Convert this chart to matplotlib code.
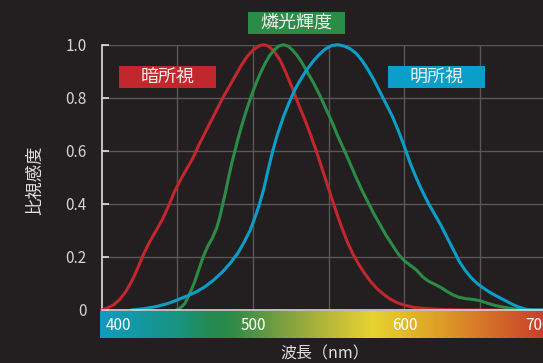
import numpy as np
import matplotlib
matplotlib.use("Agg")
import matplotlib.pyplot as plt
from matplotlib.colors import LinearSegmentedColormap
from matplotlib.patches import Rectangle

plt.rcParams["font.family"] = ["Noto Sans CJK JP", "DejaVu Sans"]

# scotopic (暗所視)
red_nm = [400, 404, 408, 412, 416, 420, 424, 428, 432, 436, 440, 444, 448, 452, 456, 460,
          464, 468, 472, 476, 480, 484, 488, 492, 496, 500, 504, 507, 510, 514, 518, 522,
          526, 530, 534, 538, 542, 546, 550, 554, 558, 562, 566, 570, 574, 578, 582, 586,
          590, 595, 600, 606, 614, 625, 640, 691]
red_val = [0, 0.008, 0.02, 0.04, 0.07, 0.11, 0.16, 0.215, 0.26, 0.30, 0.34, 0.39, 0.445,
           0.49, 0.53, 0.57, 0.62, 0.665, 0.71, 0.755, 0.8, 0.84, 0.88, 0.92, 0.955, 0.98,
           0.996, 1.0, 0.995, 0.975, 0.94, 0.89, 0.835, 0.775, 0.72, 0.66, 0.595, 0.525,
           0.455, 0.385, 0.32, 0.26, 0.21, 0.17, 0.135, 0.105, 0.08, 0.06, 0.043, 0.028,
           0.018, 0.01, 0.005, 0.002, 0, 0]

# phosphorescent luminance (燐光輝度)
green_nm = [449.5, 452, 455, 458, 461, 464, 467, 470, 473, 476, 478, 480, 482, 484, 486,
            488, 490, 493, 496, 499, 502, 505, 508, 511, 514, 517, 520, 523, 526, 529, 532,
            536, 540, 544, 548, 552, 556, 560, 564, 568, 572, 576, 580, 584, 588, 592, 596,
            600, 604, 608, 612, 616, 620, 624, 628, 632, 636, 640, 645, 650, 655, 660, 666,
            674, 684, 691]
green_val = [0, 0.008, 0.025, 0.06, 0.10, 0.15, 0.2, 0.24, 0.27, 0.31, 0.35, 0.40, 0.45,
             0.505, 0.555, 0.60, 0.645, 0.705, 0.76, 0.81, 0.855, 0.895, 0.93, 0.96, 0.98,
             0.995, 1.0, 0.995, 0.98, 0.96, 0.935, 0.895, 0.855, 0.81, 0.76, 0.71, 0.655,
             0.605, 0.553, 0.50, 0.45, 0.405, 0.36, 0.32, 0.28, 0.245, 0.21, 0.185, 0.168,
             0.15, 0.125, 0.108, 0.097, 0.085, 0.07, 0.057, 0.048, 0.043, 0.04, 0.035,
             0.025, 0.017, 0.01, 0.003, 0, 0]

# photopic (明所視)
blue_nm = [420, 428, 436, 444, 450, 456, 462, 468, 474, 480, 485, 490, 494, 498, 501, 504,
           507, 510, 513, 516, 520, 524, 528, 532, 536, 540, 544, 548, 552, 556, 560, 564,
           568, 572, 576, 580, 584, 588, 592, 596, 600, 604, 608, 612, 616, 620, 624, 628,
           632, 636, 640, 644, 648, 652, 656, 660, 665, 670, 675, 680, 684, 691]
blue_val = [0, 0.005, 0.013, 0.025, 0.038, 0.052, 0.067, 0.087, 0.113, 0.145, 0.177, 0.215,
            0.255, 0.30, 0.345, 0.395, 0.455, 0.53, 0.60, 0.66, 0.728, 0.785, 0.835, 0.875,
            0.91, 0.94, 0.965, 0.985, 0.997, 1.0, 0.995, 0.985, 0.968, 0.94, 0.905, 0.865,
            0.82, 0.775, 0.73, 0.675, 0.615, 0.55, 0.495, 0.445, 0.4, 0.36, 0.32, 0.275,
            0.23, 0.185, 0.15, 0.122, 0.1, 0.083, 0.068, 0.055, 0.04, 0.025, 0.012, 0.003,
            0, 0]

y_ticks = [0, 0.2, 0.4, 0.6, 0.8, 1.0]
y_tick_labels = ["0", "0.2", "0.4", "0.6", "0.8", "1.0"]
x_ticks = [400, 500, 600, 700]

spectrum_nm = [399, 451, 469, 484, 520, 550, 579, 616, 649, 692]
spectrum_colors = ["#0f9bc0", "#189480", "#238b55", "#2a8a48", "#7da040", "#b8b83a",
                   "#e8d330", "#e0a828", "#d87a28", "#c8402a"]

BG = "#231f20"
RED = "#c1272d"
GREEN = "#2b8c47"
BLUE = "#0a9fc8"
W, H = 543, 363

fig = plt.figure(figsize=(W / 100, H / 100), dpi=100, facecolor=BG)

# main axes, pixel box (101.7, 44.7) - (543, 310)
ax = fig.add_axes([101.7 / W, 1 - 310 / H, (W - 101.7) / W, (310 - 44.7) / H])
ax.set_facecolor(BG)
x_min, x_max = 400, 400 + (W - 101.7) / 1.514
ax.set_xlim(x_min, x_max)
ax.set_ylim(0, 1)

for v in np.arange(450, 700, 50):
    ax.axvline(v, color="#5b5657", lw=1, zorder=1)
for v in y_ticks[1:]:
    ax.axhline(v, color="#5b5657", lw=1, zorder=1)

ax.plot(red_nm, red_val, color=RED, lw=2.2, zorder=3, clip_on=False)
ax.plot(green_nm, green_val, color=GREEN, lw=2.2, zorder=3, clip_on=False)
ax.plot(blue_nm, blue_val, color=BLUE, lw=2.2, zorder=3, clip_on=False)

for s in ["top", "right"]:
    ax.spines[s].set_visible(False)
ax.spines["left"].set_color("#e0e0e0")
ax.spines["left"].set_linewidth(1.2)
ax.spines["bottom"].set_color("#d8d8d8")
ax.spines["bottom"].set_linewidth(1.2)
ax.spines["bottom"].set_zorder(4)

ax.set_yticks(y_ticks)
ax.set_yticklabels(y_tick_labels)
ax.tick_params(axis="y", direction="in", length=5, width=1.2, color="#e0e0e0",
               labelcolor="#d4d4d4", labelsize=11, pad=11)
ax.set_xticks([])

# spectrum bar
bar = fig.add_axes([100 / W, 1 - 337.7 / H, (W - 100) / W, 26.7 / H])
bar_x0 = 400 - 1.7 / 1.514
bar.set_xlim(bar_x0, x_max)
bar.set_ylim(0, 1)
stops = [(n - spectrum_nm[0]) / (spectrum_nm[-1] - spectrum_nm[0]) for n in spectrum_nm]
cmap = LinearSegmentedColormap.from_list("spec", list(zip(stops, spectrum_colors)))
grad = np.linspace(bar_x0, x_max, 600)
grad = (grad - spectrum_nm[0]) / (spectrum_nm[-1] - spectrum_nm[0])
bar.imshow(grad[np.newaxis, :], aspect="auto", cmap=cmap, vmin=0, vmax=1,
           extent=[bar_x0, x_max, 0, 1])
bar.axis("off")
for v in x_ticks:
    if v == 400:
        bar.text(v + 3, 0.45, str(v), ha="left", va="center", color="white", fontsize=11)
    elif v == 700:
        bar.text(680, 0.45, str(v), ha="left", va="center", color="white", fontsize=11,
                 clip_on=False)
    else:
        bar.text(v, 0.45, str(v), ha="center", va="center", color="white", fontsize=11)

fig.text(325 / W, 1 - 354 / H, "波長（nm）", ha="center", va="center",
         color="#e0e0e0", fontsize=11.5)
fig.text(35 / W, 1 - 180 / H, "比視感度", ha="center", va="center", rotation=90,
         color="#e0e0e0", fontsize=12.5)

# label boxes
boxes = [("暗所視", RED, 119, 66, 216, 88),
         ("燐光輝度", GREEN, 248, 12, 345, 34),
         ("明所視", BLUE, 388, 66, 485, 88)]
for txt, col, x0, y0, x1, y1 in boxes:
    fig.add_artist(Rectangle((x0 / W, 1 - y1 / H), (x1 - x0) / W, (y1 - y0) / H,
                             transform=fig.transFigure, facecolor=col, edgecolor="none"))
    fig.text((x0 + x1) / 2 / W, 1 - (y0 + y1) / 2 / H, txt, ha="center", va="center",
             color="#f0f0f0", fontsize=13)

fig.savefig("out.png", dpi=100, facecolor=BG)
